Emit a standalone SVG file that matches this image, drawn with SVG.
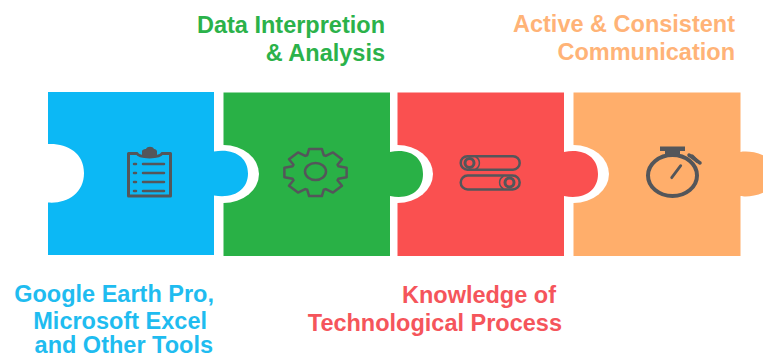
<svg xmlns="http://www.w3.org/2000/svg" width="763" height="358" viewBox="0 0 763 358">
<style>
.t{font-family:"Liberation Sans",Arial,sans-serif;font-weight:700;font-size:23.500px}
.i{fill:none;stroke:#54565a;stroke-width:2.500;stroke-linejoin:round;stroke-linecap:round}
.f{fill:#54565a;stroke:none}
.halo{fill:#fff}
</style>
<rect width="763" height="358" fill="#fff"/>
<g id="piece-orange">
<path fill="#ffae6b" d="M573.500 92.500H740.500V152C748 150.500 775 152 775 174S748 197.500 740.500 196V256H573.500Z"/>
<ellipse class="halo" cx="573.500" cy="174" rx="35.500" ry="29"/>
<g class="i"><ellipse cx="672.500" cy="175.500" rx="24.500" ry="20.500" stroke-width="4"/><path class="f" d="M660 146.500H685V151H680V156H665V151H660Z"/><path d="M692 156L697 161" stroke-width="3.500"/><path d="M689 155L700 163" stroke-width="3.500"/><path d="M671.700 177.700L680.700 165.700" stroke-width="2.800"/></g>
</g>
<g id="piece-red">
<path fill="#fa5050" d="M397.500 92.500H564V152C585 148 598 158 598 174S585 200 564 196V256H397.500Z"/>
<ellipse class="halo" cx="397.500" cy="174" rx="35.500" ry="29"/>
<g class="i"><rect x="460.700" y="156.200" width="59" height="13.500" rx="6.700"/><circle cx="469.500" cy="163" r="4.500" stroke-width="3"/><path d="M476 157A7 7 0 0 1 476 169" stroke-width="1.500"/><rect x="460.700" y="175.500" width="59" height="14" rx="7"/><circle cx="509.500" cy="182.500" r="4.500" stroke-width="3"/><path d="M503 176.500A7 7 0 0 0 503 188.500" stroke-width="1.500"/></g>
</g>
<g id="piece-green">
<path fill="#29b146" d="M223.500 92.500H390V152C411 148 423 158 423 174S411 200 390 196V256H223.500Z"/>
<ellipse class="halo" cx="223.500" cy="174" rx="35.500" ry="29"/>
<g class="i">
<path vector-effect="non-scaling-stroke" transform="translate(315.500 172.500) scale(1.270 .96)" d="M-6.500-18L-5-24.500H5L6.500-18L8.130-17.320L13.790-20.860L20.860-13.790L17.320-8.130L18-6.500L24.500-5V5L18 6.500L17.320 8.130L20.860 13.790L13.790 20.860L8.130 17.320L6.500 18L5 24.500H-5L-6.500 18L-8.130 17.320L-13.790 20.860L-20.860 13.790L-17.320 8.130L-18 6.500L-24.500 5V-5L-18-6.500L-17.320-8.130L-20.860-13.790L-13.790-20.860L-8.130-17.320Z"/>
<ellipse cx="315.500" cy="171.500" rx="10.500" ry="8.500"/></g>
</g>
<g id="piece-blue">
<path fill="#0cb8f5" d="M48 92H214V151.500C235 148 248 158 248 173.500S235 199 214 195.500V255H48V202.500C66 204 84 194 84 173S66 143 48 144Z"/>
<g class="i" stroke-width="3"><path stroke-width="3" d="M137 153.500H128.500V196H170.500V153.500H162C160 158 139 158 137 153.500Z"/><path class="f" d="M142 156V151C143 149 146 149 146 149C147 146 153 146 154 149C154 149 156 149 157 151V156Z"/><path stroke-width="2.500" d="M134 164H136M134 173H136M134 182H136M134 191H136M143 164H164M143 173H164M143 182H164M143 191H164"/></g>
</g>
<g id="labels">
<text class="t" x="385" y="33" text-anchor="end" fill="#2bb24a">Data Interpretion</text>
<text class="t" x="385" y="61" text-anchor="end" fill="#2bb24a">&amp; Analysis</text>
<text class="t" x="735" y="32" text-anchor="end" fill="#ffb377">Active &amp; Consistent</text>
<text class="t" x="735" y="60" text-anchor="end" fill="#ffb377">Communication</text>
<text class="t" x="214" y="302" text-anchor="end" fill="#1fbcf0">Google Earth Pro,</text>
<text class="t" x="207" y="329" text-anchor="end" fill="#1fbcf0">Microsoft Excel</text>
<text class="t" x="213" y="353" text-anchor="end" fill="#1fbcf0">and Other Tools</text>
<text class="t" x="556" y="303" text-anchor="end" fill="#f5555b">Knowledge of</text>
<text class="t" x="562" y="331" text-anchor="end" fill="#f5555b">Technological Process</text>
</g>
<g id="connectors"></g>
</svg>
